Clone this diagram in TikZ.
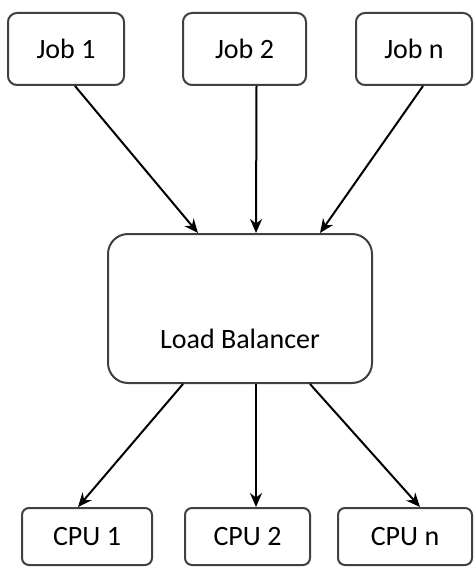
\documentclass[tikz,border=0pt]{standalone}
\usepackage{fontspec}
\setmainfont{Carlito}
\usetikzlibrary{arrows.meta}
\begin{document}
\begin{tikzpicture}[x=1pt,y=-1pt,
    jobbox/.style={draw=black!75,line width=2pt,rounded corners=9pt,font=\fontsize{28}{32}\selectfont,minimum height=72pt},
    cpubox/.style={draw=black!75,line width=2pt,rounded corners=7pt,font=\fontsize{28}{32}\selectfont,minimum height=57pt},
    flow/.style={-{Stealth[length=14pt,width=12pt]},line width=2pt}]
    \useasboundingbox (0,0) rectangle (474,567);

    % Jobs
    \node[jobbox,minimum width=116pt] (job1) at (66,49) {Job 1};
    \node[jobbox,minimum width=123pt] (job2) at (244.5,49) {Job 2};
    \node[jobbox,minimum width=116pt] (jobn) at (414,49) {Job n};

    % Load Balancer
    \node[draw=black!75,line width=2pt,rounded corners=20pt,minimum width=264pt,minimum height=149pt,
        label={[font=\fontsize{28}{32}\selectfont,yshift=-30pt]center:Load Balancer}] (lb) at (240,308.5) {};

    % CPUs
    \node[cpubox,minimum width=130pt] (cpu1) at (87,536.5) {CPU 1};
    \node[cpubox,minimum width=125pt] (cpu2) at (247.5,536.5) {CPU 2};
    \node[cpubox,minimum width=134pt] (cpun) at (405,536.5) {CPU n};

    % Connections
    \draw[flow] ([xshift=9pt]job1.south) -- ([xshift=-42pt]lb.north);
    \draw[flow] ([xshift=12pt]job2.south) -- ([xshift=16pt]lb.north);
    \draw[flow] ([xshift=9pt]jobn.south) -- ([xshift=80pt]lb.north);
    \draw[flow] ([xshift=-57pt]lb.south) -- ([xshift=-9pt]cpu1.north);
    \draw[flow] ([xshift=16pt]lb.south) -- ([xshift=8.5pt]cpu2.north);
    \draw[flow] ([xshift=70pt]lb.south) -- ([xshift=15pt]cpun.north);
\end{tikzpicture}
\end{document}
